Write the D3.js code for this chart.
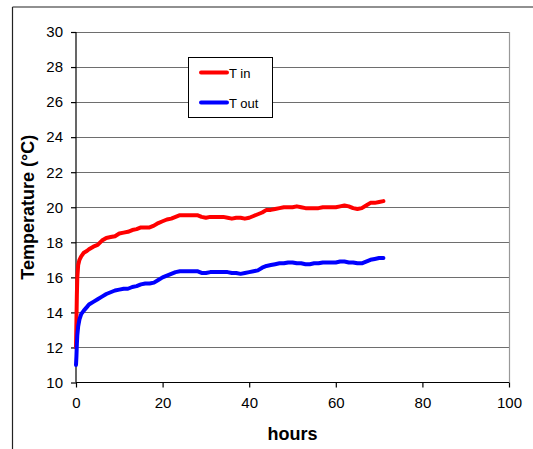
<!DOCTYPE html>
<html>
<head>
<meta charset="utf-8">
<script src="https://cdn.jsdelivr.net/npm/d3@7"></script>
<style>
  html, body { margin: 0; padding: 0; background: #fff; }
  svg { display: block; font-family: "Liberation Sans", Arial, sans-serif; }
</style>
</head>
<body>
<svg id="chart" width="533" height="449"></svg>
<script>
// ---- data ----
const hours = [0, 0.1, 0.2, 0.3, 0.5, 0.8, 1.2, 1.8, 2.5, 3, 4, 5, 6, 7, 8, 9, 10, 11, 12, 13, 14, 15, 16, 17, 18, 19, 20,
  21, 22, 23, 24, 25, 26, 27, 28, 29, 30, 31, 32, 33, 34, 35, 36, 37, 38, 39, 40, 41, 42, 43, 44, 45, 46, 47, 48, 49, 50,
  51, 52, 53, 54, 55, 56, 57, 58, 59, 60, 61, 62, 63, 64, 65, 66, 67, 68, 69, 70, 71];
const tIn = [12.0, 13.5, 15.0, 16.0, 16.7, 17.0, 17.2, 17.4, 17.5, 17.6, 17.75, 17.85, 18.1, 18.25, 18.3, 18.35, 18.5,
  18.55, 18.6, 18.7, 18.75, 18.85, 18.85, 18.85, 18.95, 19.1, 19.2, 19.3, 19.35, 19.45, 19.55, 19.55, 19.55, 19.55, 19.55,
  19.45, 19.4, 19.45, 19.45, 19.45, 19.45, 19.4, 19.35, 19.4, 19.4, 19.35, 19.4, 19.5, 19.6, 19.7, 19.85, 19.85, 19.9,
  19.95, 20.0, 20.0, 20.0, 20.05, 20.0, 19.95, 19.95, 19.95, 19.95, 20.0, 20.0, 20.0, 20.0, 20.05, 20.1, 20.05, 19.95,
  19.9, 19.95, 20.1, 20.25, 20.25, 20.3, 20.35];
const tOut = [11.0, 11.5, 12.2, 12.7, 13.2, 13.6, 13.9, 14.1, 14.3, 14.45, 14.6, 14.75, 14.9, 15.05, 15.15, 15.25, 15.3,
  15.35, 15.35, 15.45, 15.5, 15.6, 15.65, 15.65, 15.7, 15.85, 16.0, 16.1, 16.2, 16.3, 16.35, 16.35, 16.35, 16.35, 16.35,
  16.25, 16.25, 16.3, 16.3, 16.3, 16.3, 16.3, 16.25, 16.25, 16.2, 16.25, 16.3, 16.35, 16.4, 16.55, 16.65, 16.7, 16.75,
  16.8, 16.8, 16.85, 16.85, 16.8, 16.8, 16.75, 16.75, 16.8, 16.8, 16.85, 16.85, 16.85, 16.85, 16.9, 16.9, 16.85, 16.85,
  16.8, 16.8, 16.9, 17.0, 17.05, 17.1, 17.1];
const seriesNames = ["T in", "T out"];
const seriesColors = ["#ff0000", "#0000ff"];
const xTicks = [0, 20, 40, 60, 80, 100];
const yTicks = [10, 12, 14, 16, 18, 20, 22, 24, 26, 28, 30];

// ---- layout ----
const svg = d3.select("#chart");
const L = 76, R = 509, T = 32, B = 382.5;
const x = d3.scaleLinear().domain([0, 100]).range([L, R]);
const y = d3.scaleLinear().domain([10, 30]).range([B, T]);

// outer frame (top + left)
svg.append("line").attr("x1", 12.5).attr("x2", 533).attr("y1", 7).attr("y2", 7)
  .attr("stroke", "#222").attr("stroke-width", 1.2);
svg.append("line").attr("x1", 12.5).attr("x2", 12.5).attr("y1", 7).attr("y2", 449)
  .attr("stroke", "#222").attr("stroke-width", 1.2);

// gridlines
svg.append("g").selectAll("line").data(yTicks.filter(d => d > 10)).join("line")
  .attr("x1", L).attr("x2", R)
  .attr("y1", d => Math.round(y(d)) + 0.5).attr("y2", d => Math.round(y(d)) + 0.5)
  .attr("stroke", "#6e6e6e").attr("stroke-width", 1);

// right border of plot area
svg.append("line").attr("x1", R + 0.5).attr("x2", R + 0.5).attr("y1", T).attr("y2", B)
  .attr("stroke", "#999").attr("stroke-width", 1.2);

// axes
const yAxis = d3.axisLeft(y).tickValues(yTicks).tickSize(5).tickPadding(8).tickFormat(d3.format("d"));
const gy = svg.append("g").attr("transform", `translate(${L},0)`).call(yAxis);
const xAxis = d3.axisBottom(x).tickValues(xTicks).tickSize(5).tickPadding(10).tickFormat(d3.format("d"));
const gx = svg.append("g").attr("transform", `translate(0,${B})`).call(xAxis);
[gx, gy].forEach(g => {
  g.select(".domain").attr("stroke", "#000").attr("stroke-width", 1.2);
  g.selectAll(".tick line").attr("stroke", "#000").attr("stroke-width", 1.2);
  g.selectAll(".tick text").attr("fill", "#000").attr("font-size", 15)
    .attr("font-family", "'Liberation Sans', Arial, sans-serif");
});
gx.select(".domain").attr("d", `M${L},0H${R}`);
gy.select(".domain").attr("d", `M0,${B}V${T}`);

// series lines
const line = d3.line().x((d, i) => x(hours[i])).y(d => y(d));
[tIn, tOut].forEach((vals, k) => {
  svg.append("path").datum(vals)
    .attr("d", line)
    .attr("fill", "none")
    .attr("stroke", seriesColors[k])
    .attr("stroke-width", 4)
    .attr("stroke-linejoin", "round")
    .attr("stroke-linecap", "round");
});

// axis titles
svg.append("text").attr("x", (L + R) / 2).attr("y", 440)
  .attr("text-anchor", "middle").attr("font-size", 18).attr("font-weight", "bold").text("hours");
svg.append("text").attr("transform", `translate(34,${(T + B) / 2}) rotate(-90)`)
  .attr("text-anchor", "middle").attr("font-size", 18).attr("font-weight", "bold").text("Temperature (°C)");

// legend
const lg = svg.append("g");
lg.append("rect").attr("x", 188.5).attr("y", 57.5).attr("width", 84).attr("height", 60)
  .attr("fill", "#fff").attr("stroke", "#000").attr("stroke-width", 1);
const legY = [72.5, 102.5];
seriesNames.forEach((n, k) => {
  lg.append("line").attr("x1", 201).attr("x2", 227).attr("y1", legY[k]).attr("y2", legY[k])
    .attr("stroke", seriesColors[k]).attr("stroke-width", 4).attr("stroke-linecap", "round");
  lg.append("text").attr("x", 229).attr("y", legY[k] + 5.3).attr("font-size", 13).attr("fill", "#000").text(n);
});
</script>
</body>
</html>
